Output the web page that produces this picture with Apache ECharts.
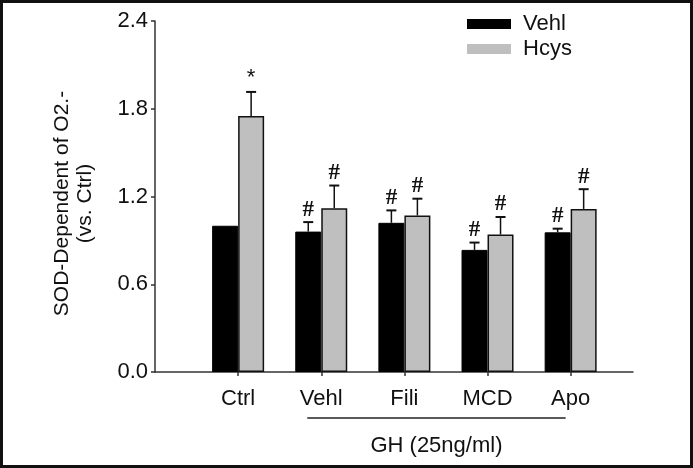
<!DOCTYPE html>
<html><head><meta charset="utf-8">
<script src="https://cdn.jsdelivr.net/npm/echarts@6/dist/echarts.min.js"></script>
<style>html,body{margin:0;padding:0;background:#fff}#c{width:693px;height:468px}</style>
</head><body><div id="c"></div>
<script>
const categories = ['Ctrl', 'Vehl', 'Fili', 'MCD', 'Apo'];
const vehlValues = [1.0, 0.96, 1.02, 0.835, 0.955];
const vehlErrors = [0, 0.065, 0.085, 0.05, 0.025];
const hcysValues = [1.75, 1.12, 1.07, 0.94, 1.115];
const hcysErrors = [0.165, 0.155, 0.115, 0.12, 0.135];
const vehlMarks = ['', '#', '#', '#', '#'];
const hcysMarks = ['*', '#', '#', '#', '#'];
const yMin = 0, yMax = 2.4, yStep = 0.6;
const groupLabel = 'GH (25ng/ml)';

const FONT = 'Liberation Sans, Arial, sans-serif';
const BAR_W = 26;

const chart = echarts.init(document.getElementById('c'));

function errSeries(name, values, errors, marks, offset) {
  return {
    type: 'custom',
    name: name + '-err',
    z: 5,
    silent: true,
    data: values.map((v, i) => [i, v, errors[i]]),
    renderItem: function (params, api) {
      const i = api.value(0), v = api.value(1), e = api.value(2);
      const base = api.coord([i, v]);
      const top = api.coord([i, v + e]);
      const x = base[0] + offset;
      const children = [];
      if (e > 0) {
        children.push({ type: 'line', shape: { x1: x, y1: base[1], x2: x, y2: top[1] }, style: { stroke: '#111', lineWidth: 1.5 } });
        children.push({ type: 'line', shape: { x1: x - 5, y1: top[1], x2: x + 5, y2: top[1] }, style: { stroke: '#111', lineWidth: 2 } });
      }
      const m = marks[params.dataIndex];
      if (m) {
        const isStar = m === '*';
        children.push({
          type: 'text',
          style: {
            text: m, x: x, y: top[1] - (isStar ? 3 : 1),
            align: 'center', verticalAlign: 'bottom',
            font: isStar ? ('22px ' + FONT) : ('bold 23px Liberation Serif, Times New Roman, serif'),
            fill: '#111'
          }
        });
      }
      return { type: 'group', children: children };
    }
  };
}

const option = {
  animation: false,
  backgroundColor: '#fff',
  grid: { left: 155, right: 60, top: 21, bottom: 96 },
  legend: {
    data: ['Vehl', 'Hcys'],
    orient: 'vertical',
    left: 462, top: 8,
    itemWidth: 44, itemHeight: 10, itemGap: 3,
    icon: 'rect',
    itemStyle: { borderWidth: 0 },
    textStyle: { fontFamily: FONT, fontSize: 22, color: '#111', padding: [0, 0, 0, 7] }
  },
  xAxis: {
    type: 'value',
    min: -1, max: 4.75,
    splitLine: { show: false },
    axisLine: { show: true, onZero: false, lineStyle: { color: '#333', width: 1.5 } },
    axisTick: { show: true, length: 4, customValues: [0, 1, 2, 3, 4], lineStyle: { color: '#333', width: 1.5 } },
    axisLabel: {
      customValues: [0, 1, 2, 3, 4],
      formatter: v => categories[Math.round(v)] || '',
      fontFamily: FONT, fontSize: 22, color: '#111', margin: 16
    }
  },
  yAxis: {
    type: 'value',
    min: yMin, max: yMax, interval: yStep,
    name: 'SOD-Dependent of O2.-\n(vs. Ctrl)',
    nameLocation: 'middle',
    nameGap: 58,
    nameTextStyle: { fontFamily: FONT, fontSize: 21, color: '#111', lineHeight: 23, padding: [0, 14, 0, 0] },
    splitLine: { show: false },
    axisLine: { show: true, onZero: false, lineStyle: { color: '#333', width: 1.5 } },
    axisTick: { show: true, length: 4, lineStyle: { color: '#333', width: 1.5 } },
    axisLabel: { formatter: v => v.toFixed(1), fontFamily: FONT, fontSize: 22, color: '#111', margin: 7 }
  },
  series: [
    {
      type: 'bar', name: 'Vehl',
      data: vehlValues.map((v, i) => [i, v]),
      barWidth: BAR_W, barGap: '0%',
      itemStyle: { color: '#000', borderColor: '#000', borderWidth: 1 }
    },
    {
      type: 'bar', name: 'Hcys',
      data: hcysValues.map((v, i) => [i, v]),
      barWidth: BAR_W, barGap: '0%',
      itemStyle: { color: '#bfbfbf', borderColor: '#111', borderWidth: 1.5 }
    },
    errSeries('Vehl', vehlValues, vehlErrors, vehlMarks, -BAR_W / 2),
    errSeries('Hcys', hcysValues, hcysErrors, hcysMarks, BAR_W / 2)
  ]
};
chart.setOption(option);

const p1 = chart.convertToPixel({ gridIndex: 0 }, [1, 0]);
const p4 = chart.convertToPixel({ gridIndex: 0 }, [4, 0]);
chart.setOption({
  graphic: [
    { type: 'rect', shape: { x: 1.5, y: 1.5, width: 690, height: 465 }, style: { fill: 'none', stroke: '#111', lineWidth: 3 }, silent: true },
    { type: 'line', shape: { x1: p1[0] - 14, y1: 418, x2: p4[0] - 5, y2: 418 }, style: { stroke: '#222', lineWidth: 1.5 } },
    { type: 'text', x: (p1[0] - 14 + p4[0] - 5) / 2, y: 446, style: { text: groupLabel, font: '22px ' + FONT, fill: '#111', align: 'center', verticalAlign: 'middle' } }
  ]
});
</script>
</body></html>
